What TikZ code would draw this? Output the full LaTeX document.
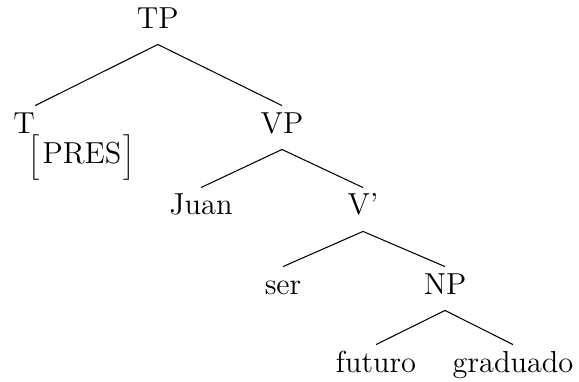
\documentclass[tikz,border=0pt]{standalone}
\usepackage{graphicx}
\usepackage{tikz}

\newcommand{\lbr}{\scalebox{1}[0.9]{$\left[\vcenter{\hrule height 24pt width 0pt}\right.$}}
\newcommand{\rbr}{\scalebox{1}[0.9]{$\left.\vcenter{\hrule height 24pt width 0pt}\right]$}}

\begin{document}
\begin{tikzpicture}[font=\Large,
  cat/.style={inner sep=0pt, anchor=base, text height=0.45cm, text depth=0.267cm},
  branch/.style={line width=0.5pt}]
  \useasboundingbox (0,0) rectangle (9.65,-6.35);
  \foreach \x/\y/\name/\id in {2.63/-0.467/TP/tp, 0.4/-2.217/T/t, 4.7/-2.217/VP/vp,
                               3.35/-3.583/Juan/juan, 6.05/-3.583/{V'}/vbar,
                               4.717/-4.9/ser/ser, 7.417/-4.9/NP/np,
                               6.267/-6.2/futuro/fut, 8.55/-6.2/graduado/grad} {
    \node[cat] (\id) at (\x,\y) {\name};
  }
  \node[inner sep=0pt] (pres) at (1.367,-2.617) {\lbr PRES\rbr};
  \draw[branch] (tp.south) -- (t.north east);
  \foreach \a/\b in {tp/vp, vp/juan, vp/vbar, vbar/ser, vbar/np, np/fut, np/grad}
    \draw[branch] (\a.south) -- (\b.north);
\end{tikzpicture}
\end{document}
